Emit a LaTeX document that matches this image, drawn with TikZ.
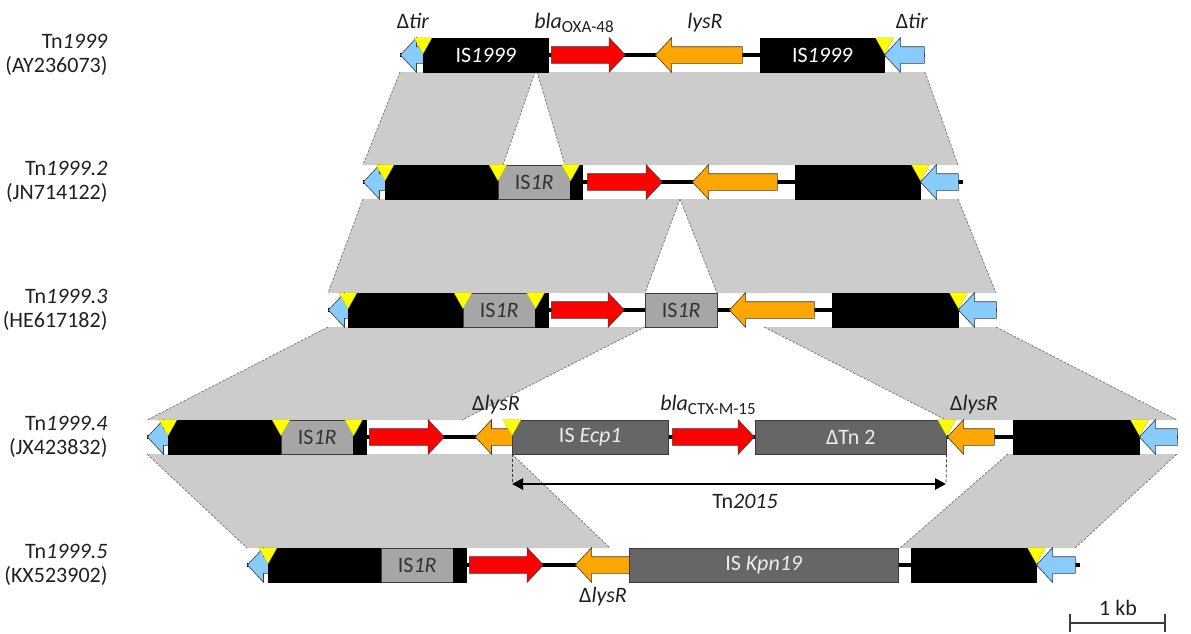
\documentclass[tikz,border=0pt]{standalone}
\usepackage{fontspec}
\setmainfont{Carlito}
\usetikzlibrary{shapes.arrows, arrows.meta, backgrounds}

\definecolor{homfill}{RGB}{204,204,204}
\definecolor{homedge}{RGB}{115,115,115}
\definecolor{outl}{RGB}{60,60,60}
\definecolor{tblue}{RGB}{135,204,250}
\definecolor{tyellow}{RGB}{255,255,0}
\definecolor{tred}{RGB}{255,0,0}
\definecolor{torange}{RGB}{255,166,0}
\definecolor{islight}{RGB}{166,166,166}
\definecolor{isdark}{RGB}{102,102,102}
\definecolor{inktext}{RGB}{35,31,32}

% lowered small index for gene names
\newcommand{\lowidx}[1]{\raisebox{-4pt}{\fontsize{17}{18}\selectfont #1}}
% shaded block of homology between two maps
\newcommand{\homblock}[6]{%
  \fill[homfill] (#1,#5) -- (#2,#5) -- (#4,#6) -- (#3,#6) -- cycle;
  \draw[homline] (#1,#5) -- (#3,#6);
  \draw[homline] (#2,#5) -- (#4,#6);}

\tikzset{
  every node/.style={font=\fontsize{22}{24}\selectfont, text=inktext},
  blk/.style={rectangle, fill=black, draw=black, line width=0.5pt, inner sep=0pt,
    minimum height=34pt, anchor=west, text=white},
  isl/.style={rectangle, fill=islight, draw=outl, line width=0.6pt, inner sep=0pt,
    minimum height=34pt, anchor=west, text=black!80},
  isd/.style={rectangle, fill=isdark, draw=outl, line width=0.6pt, inner sep=0pt,
    minimum height=34pt, anchor=west, text=black!7},
  genearrow/.style={single arrow, draw=outl, line width=0.6pt,
    inner xsep=0pt, inner ysep=8pt, text height=0pt, text depth=0pt, text width=0pt,
    single arrow head extend=9pt, single arrow tip angle=94,
    single arrow head indent=0pt},
  rarr/.style={genearrow, anchor=tail},
  larr/.style={genearrow, rotate=180, anchor=tip},
  backbone/.style={line width=4.5pt, black},
  homline/.style={draw=homedge, line width=0.7pt, dash pattern=on 2.5pt off 1.5pt},
  guide/.style={draw=outl, line width=0.8pt, dash pattern=on 3pt off 2pt},
  scalebar/.style={draw=outl, line width=1.5pt},
  tag/.style={anchor=base},
  tir/.pic={\fill[tyellow, draw=tyellow!75!black, line width=0.3pt]
    (-9,0) -- (9,0) -- (0,16) -- cycle;}
}

\begin{document}
\begin{tikzpicture}[x=1pt,y=-1pt]
\useasboundingbox (0,0) rectangle (1191,633);

% ---------------- Tn1999
\node[larr, fill=tblue, minimum height=24pt] (b1L) at (400,55) {};
\node[blk, minimum width=125pt] (k1a) at (423,55) {IS\textit{1999}};
\node[rarr, fill=tred, minimum height=74pt] (r1) at (551,55) {};
\node[larr, fill=torange, minimum height=87pt] (o1) at (655,55) {};
\node[blk, minimum width=124pt] (k1b) at (760,55) {IS\textit{1999}};
\node[larr, fill=tblue, minimum height=40pt] (b1R) at (884,55) {};
\pic at (k1a.north west) {tir};
\pic at (k1b.north east) {tir};

% ---------------- Tn1999.2
\node[larr, fill=tblue, minimum height=22pt] (b2L) at (363,182) {};
\node[blk, minimum width=113pt] (k2a) at (385,182) {};
\node[isl, minimum width=72pt] (g2) at (498,182) {IS\textit{1R}};
\node[blk, minimum width=12pt] (k2b) at (570,182) {};
\node[rarr, fill=tred, minimum height=75pt] (r2) at (587,182) {};
\node[larr, fill=torange, minimum height=85pt] (o2) at (692,182) {};
\node[blk, minimum width=125pt] (k2c) at (795,182) {};
\node[larr, fill=tblue, minimum height=38pt] (b2R) at (920,182) {};
\pic at (k2a.north west) {tir};
\pic at (g2.north west) {tir};
\pic at (g2.north east) {tir};
\pic at (k2c.north east) {tir};

% ---------------- Tn1999.3
\node[larr, fill=tblue, minimum height=20pt] (b3L) at (328,310) {};
\node[blk, minimum width=115pt] (k3a) at (348,310) {};
\node[isl, minimum width=72pt] (g3a) at (463,310) {IS\textit{1R}};
\node[blk, minimum width=13pt] (k3b) at (535,310) {};
\node[rarr, fill=tred, minimum height=73pt] (r3) at (551,310) {};
\node[isl, minimum width=72pt] (g3b) at (645,310) {IS\textit{1R}};
\node[larr, fill=torange, minimum height=85pt] (o3) at (729,310) {};
\node[blk, minimum width=126pt] (k3c) at (832,310) {};
\node[larr, fill=tblue, minimum height=38pt] (b3R) at (958,310) {};
\pic at (k3a.north west) {tir};
\pic at (g3a.north west) {tir};
\pic at (g3a.north east) {tir};
\pic at (k3c.north east) {tir};

% ---------------- Tn1999.4
\node[larr, fill=tblue, minimum height=21pt] (b4L) at (147,437) {};
\node[blk, minimum width=113pt] (k4a) at (168,437) {};
\node[isl, minimum width=72pt] (g4) at (281,437) {IS\textit{1R}};
\node[blk, minimum width=13pt] (k4b) at (353,437) {};
\node[rarr, fill=tred, minimum height=75pt] (r4) at (369,437) {};
\node[larr, fill=torange, minimum height=37pt] (o4a) at (475,437) {};
\node[isd, minimum width=156pt] (d4a) at (512,437) {IS \textit{Ecp1}};
\node[rarr, fill=tred, minimum height=82pt] (r4b) at (672,437) {};
\node[isd, minimum width=191pt] (d4b) at (755,437) {ΔTn 2};
\node[larr, fill=torange, minimum height=47pt] (o4b) at (947,437) {};
\node[blk, minimum width=126pt] (k4c) at (1013,437) {};
\node[larr, fill=tblue, minimum height=38pt] (b4R) at (1139,437) {};
\pic at (k4a.north west) {tir};
\pic at (g4.north west) {tir};
\pic at (g4.north east) {tir};
\pic at (d4a.north west) {tir};
\pic at (d4b.north east) {tir};
\pic at (k4c.north east) {tir};

% Tn2015 extent
\coordinate (tnL) at (512,484);
\coordinate (tnR) at (946,484);
\draw[guide] (d4a.south west) -- (tnL);
\draw[guide] (d4b.south east) -- (tnR);
\draw[line width=2.6pt, {Triangle[length=11pt,width=11pt]}-{Triangle[length=11pt,width=11pt]}]
  (tnL) -- (tnR);
\node[tag] (tn2015) at (745,508) {Tn\textit{2015}};

% ---------------- Tn1999.5
\node[larr, fill=tblue, minimum height=21pt] (b5L) at (247,565) {};
\node[blk, minimum width=113pt] (k5a) at (268,565) {};
\node[isl, minimum width=72pt] (g5) at (381,565) {IS\textit{1R}};
\node[blk, minimum width=13pt] (k5b) at (453,565) {};
\node[rarr, fill=tred, minimum height=74pt] (r5) at (469,565) {};
\node[larr, fill=torange, minimum height=54pt] (o5) at (575,565) {};
\node[isd, minimum width=269pt] (d5) at (629,565) {IS \textit{Kpn19}};
\node[blk, minimum width=125pt] (k5c) at (911,565) {};
\node[larr, fill=tblue, minimum height=39pt] (b5R) at (1036,565) {};
\pic at (k5a.north west) {tir};
\pic at (k5c.north east) {tir};

% ---------------- backbones and homology blocks, behind the features
\begin{scope}[on background layer]
  \homblock{400}{535}{363}{503}{72}{165}
  \homblock{537}{925}{565}{958}{72}{165}
  \homblock{363}{680}{328}{645}{199}{293}
  \homblock{680}{958}{717}{996}{199}{293}
  \homblock{328}{645}{147}{462}{327}{420}
  \homblock{764}{996}{946}{1177}{327}{420}
  \homblock{147}{512}{247}{610}{454}{548}
  \homblock{1008}{1177}{900}{1075}{454}{548}
  \draw[backbone] (b1L.tip) -- (b1R.tail);
  \draw[backbone] (b2L.tip) -- ([xshift=4pt]b2R.tail);
  \draw[backbone] (b3L.tip) -- (b3R.tail);
  \draw[backbone] (b4L.tip) -- (b4R.tail);
  \draw[backbone] (b5L.tip) -- ([xshift=4pt]b5R.tail);
\end{scope}

% ---------------- gene labels
\node[tag] (l1a) at (413,28) {Δ\textit{tir}};
\node[tag] (l1b) at (574,28) {\textit{bla}\lowidx{OXA-48}};
\node[tag] (l1c) at (705,28) {\textit{lysR}};
\node[tag] (l1d) at (912,28) {Δ\textit{tir}};
\node[tag] (l4a) at (496,410) {Δ\textit{lysR}};
\node[tag] (l4b) at (708,410) {\textit{bla}\lowidx{CTX-M-15}};
\node[tag] (l4c) at (974,410) {Δ\textit{lysR}};
\node[tag] (l5a) at (603,602) {Δ\textit{lysR}};

% ---------------- map names
\node[anchor=east, align=right] (n1) at (111,55) {Tn\textit{1999}\\(AY236073)};
\node[anchor=east, align=right] (n2) at (111,182) {Tn\textit{1999.2}\\(JN714122)};
\node[anchor=east, align=right] (n3) at (111,310) {Tn\textit{1999.3}\\(HE617182)};
\node[anchor=east, align=right] (n4) at (111,437) {Tn\textit{1999.4}\\(JX423832)};
\node[anchor=east, align=right] (n5) at (111,565) {Tn\textit{1999.5}\\(KX523902)};

% ---------------- scale bar
\coordinate (sbL) at (1070,623);
\coordinate (sbR) at (1165,623);
\draw[scalebar] (sbL) -- (sbR);
\draw[scalebar] (sbL) ++(0,-9) -- ++(0,18);
\draw[scalebar] (sbR) ++(0,-9) -- ++(0,18);
\node[tag] (sbt) at (1118,615) {1 kb};
\end{tikzpicture}
\end{document}
